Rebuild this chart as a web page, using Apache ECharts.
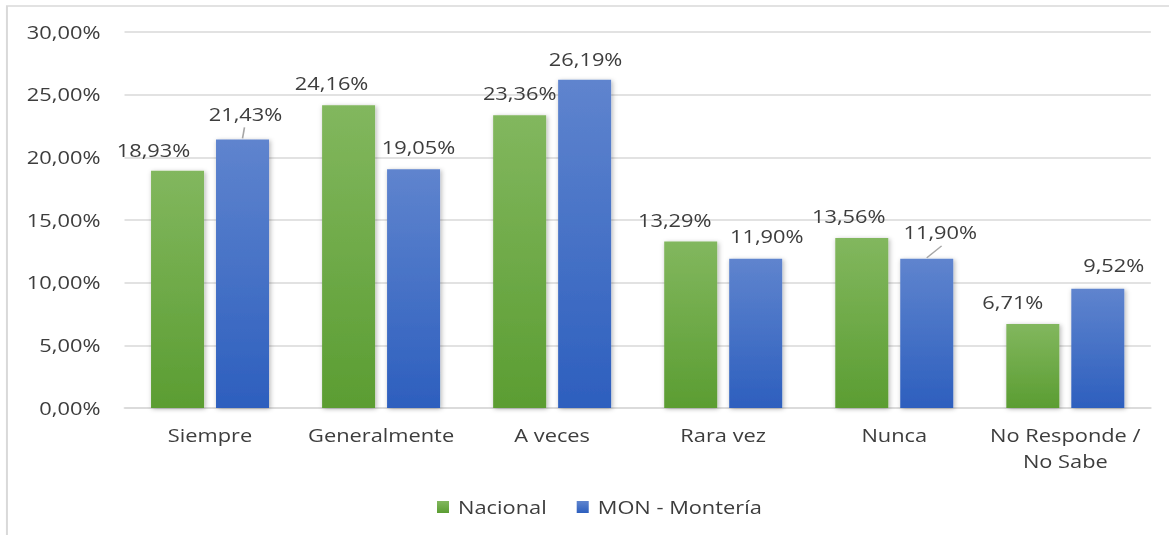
<!DOCTYPE html>
<html>
<head>
<meta charset="utf-8">
<script src="https://cdn.jsdelivr.net/npm/echarts@6/dist/echarts.min.js"></script>
<style>
  html, body { margin: 0; padding: 0; background: #ffffff; overflow: hidden; }
  #stage { width: 1169px; height: 535px; position: relative; overflow: hidden; }
  /* the chart is laid out narrower and widened horizontally so the text gets the wide look */
  #chart { width: 942.74px; height: 535px; transform: scaleX(1.24); transform-origin: 0 0; }
</style>
</head>
<body>
<div id="stage"><div id="chart"></div></div>
<script>
// Categories and values (percent)
const categories = ['Siempre', 'Generalmente', 'A veces', 'Rara vez', 'Nunca', 'No Responde /\nNo Sabe'];
const nacional = [18.93, 24.16, 23.36, 13.29, 13.56, 6.71];
const monteria = [21.43, 19.05, 26.19, 11.90, 11.90, 9.52];
const seriesNames = ['Nacional', 'MON - Montería'];
const yTicks = { min: 0, max: 30, interval: 5 };

// Label nudges (dx, dy) for each bar label
const nacionalNudge = [[-19.4, 2], [-13.7, 0], [0, 0], [-12.9, 1], [-10.5, 0], [-16.1, 0]];
const monteriaNudge = [[2.4, -3], [4, 0], [0.8, 2], [8.9, -1], [10.9, -5], [12.9, -1]];
// Leader lines for the MON labels that were pulled away: [category index, end dx, end dy]
const monteriaLeaders = [[0, 1.6, -11], [4, 12, -12]];

const pct = v => v.toFixed(2).replace('.', ',') + '%';
const textColor = '#3d3d3d';
const fontFamily = '"Open Sans", "Noto Sans", sans-serif';
const fontSize = 17.6;
const barWidth = 42.74;
const barGapRatio = 0.226;

const greenFill = new echarts.graphic.LinearGradient(0, 0, 0, 1, [
  { offset: 0, color: '#82b75e' },
  { offset: 1, color: '#5b9d32' }
]);
const blueFill = new echarts.graphic.LinearGradient(0, 0, 0, 1, [
  { offset: 0, color: '#5f84ce' },
  { offset: 1, color: '#2d5fbe' }
]);

function barLabel() {
  return {
    show: true,
    position: 'top',
    distance: 13,
    color: textColor,
    fontFamily: fontFamily,
    fontSize: fontSize,
    formatter: p => pct(p.value)
  };
}

const barShadow = {
  shadowBlur: 4,
  shadowColor: 'rgba(0,0,0,0.3)',
  shadowOffsetX: 1,
  shadowOffsetY: 1
};

const chart = echarts.init(document.getElementById('chart'), null, { renderer: 'svg' });

chart.setOption({
  animation: false,
  backgroundColor: '#ffffff',
  textStyle: { fontFamily: fontFamily, color: textColor },
  graphic: [{
    type: 'rect',
    silent: true,
    shape: { x: 5.6, y: 6, width: 2000, height: 2000 },
    style: { fill: 'none', stroke: '#d9d9d9', lineWidth: 1.6 }
  }],
  grid: { left: 100.4, right: 14.9, top: 32, bottom: 127, containLabel: false },
  legend: {
    data: seriesNames,
    left: 347.4,
    top: 493,
    itemWidth: 9.7,
    itemHeight: 12,
    itemGap: 24.2,
    icon: 'rect',
    textStyle: { color: textColor, fontSize: fontSize, fontFamily: fontFamily, padding: [0, 0, 0, 2.3] }
  },
  xAxis: {
    type: 'category',
    data: categories,
    axisLine: { show: true, lineStyle: { color: '#d9d9d9', width: 1.6 } },
    axisTick: { show: false },
    axisLabel: {
      color: textColor,
      fontSize: fontSize,
      fontFamily: fontFamily,
      margin: 14,
      lineHeight: 26,
      interval: 0
    }
  },
  yAxis: {
    type: 'value',
    min: yTicks.min,
    max: yTicks.max,
    interval: yTicks.interval,
    axisLine: { show: false },
    axisTick: { show: false },
    splitLine: { lineStyle: { color: '#d9d9d9', width: 1.6 } },
    axisLabel: {
      color: textColor,
      fontSize: fontSize,
      fontFamily: fontFamily,
      margin: 19.4,
      formatter: v => pct(v)
    }
  },
  series: [
    {
      name: seriesNames[0],
      type: 'bar',
      barWidth: barWidth,
      barGap: (barGapRatio * 100) + '%',
      data: nacional,
      itemStyle: Object.assign({ color: greenFill }, barShadow),
      label: barLabel(),
      labelLayout: p => ({ dx: nacionalNudge[p.dataIndex][0], dy: nacionalNudge[p.dataIndex][1] })
    },
    {
      name: seriesNames[1],
      type: 'bar',
      barWidth: barWidth,
      barGap: (barGapRatio * 100) + '%',
      data: monteria,
      itemStyle: Object.assign({ color: blueFill }, barShadow),
      label: barLabel(),
      labelLayout: p => ({ dx: monteriaNudge[p.dataIndex][0], dy: monteriaNudge[p.dataIndex][1] })
    },
    {
      // thin grey leaders from the top of a MON bar up toward its label
      type: 'custom',
      silent: true,
      z: 3,
      data: monteriaLeaders.map(l => [l[0], monteria[l[0]], l[1], l[2]]),
      renderItem: (params, api) => {
        const top = api.coord([api.value(0), api.value(1)]);
        const x = top[0] + (barWidth + barWidth * barGapRatio) / 2;
        const y = top[1] - 1;
        return {
          type: 'line',
          shape: { x1: x, y1: y, x2: x + api.value(2), y2: y + api.value(3) },
          style: { stroke: '#a6a6a6', lineWidth: 1.3 }
        };
      }
    }
  ]
});
</script>
</body>
</html>
